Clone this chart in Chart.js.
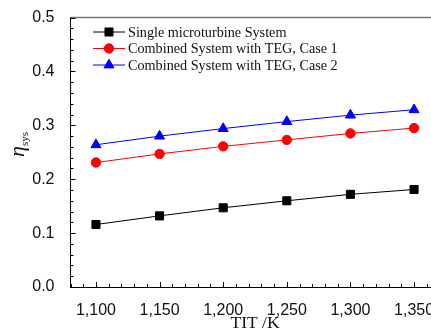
<!DOCTYPE html>
<html>
<head>
<meta charset="utf-8">
<script src="https://cdn.jsdelivr.net/npm/chart.js@4/dist/chart.umd.min.js"></script>
<style>
  html, body { margin: 0; padding: 0; overflow: hidden; background: #fff; }
</style>
</head>
<body>
<canvas id="effChart" width="450" height="333"></canvas>
<script>
// data
const temps = [1100, 1150, 1200, 1250, 1300, 1350];
const singleSys = [0.116, 0.132, 0.147, 0.160, 0.172, 0.181];
const tegCase1 = [0.231, 0.247, 0.261, 0.273, 0.285, 0.295];
const tegCase2 = [0.264, 0.280, 0.294, 0.307, 0.319, 0.329];
const seriesNames = ['Single microturbine System', 'Combined System with TEG, Case 1', 'Combined System with TEG, Case 2'];
const yTicks = [0.0, 0.1, 0.2, 0.3, 0.4, 0.5];

function toPoints(vals) {
    return vals.map((v, i) => ({ x: temps[i], y: v }));
}

// inward ticks, frame, legend and y title
const decorations = {
    id: 'decorations',
    afterDraw(chart) {
        const ctx = chart.ctx;
        const area = chart.chartArea;
        const xs = chart.scales.x;
        const ys = chart.scales.y;
        ctx.save();

        // top frame line
        ctx.strokeStyle = '#777';
        ctx.lineWidth = 1.5;
        ctx.beginPath();
        ctx.moveTo(area.left, area.top);
        ctx.lineTo(area.right, area.top);
        ctx.lineTo(area.right, area.bottom);
        ctx.stroke();

        ctx.strokeStyle = '#000';
        ctx.lineWidth = 1;
        ctx.beginPath();
        for (let v = 1080; v <= 1370; v += 10) {
            const px = Math.round(xs.getPixelForValue(v)) + 0.5;
            const len = v % 50 === 0 ? 5 : 3;
            ctx.moveTo(px, area.bottom);
            ctx.lineTo(px, area.bottom - len);
        }
        for (let i = 0; i <= 25; i++) {
            const py = Math.round(ys.getPixelForValue(i * 0.02)) + 0.5;
            const len = i % 5 === 0 ? 5 : 3;
            ctx.moveTo(area.left, py);
            ctx.lineTo(area.left + len, py);
        }
        ctx.stroke();

        // legend
        chart.data.datasets.forEach((ds, i) => {
            const y = 32 + i * 16.5;
            ctx.strokeStyle = ds.borderColor;
            ctx.lineWidth = 1;
            ctx.beginPath();
            ctx.moveTo(93, y);
            ctx.lineTo(125, y);
            ctx.stroke();
            ctx.fillStyle = ds.pointBackgroundColor;
            ctx.strokeStyle = ds.borderColor;
            Chart.helpers.drawPoint(ctx, {
                pointStyle: ds.pointStyle,
                radius: ds.pointRadius,
                rotation: 0,
                borderWidth: 1
            }, 109, y);
            ctx.fillStyle = '#111';
            ctx.font = '14.2px "Liberation Serif"';
            ctx.textBaseline = 'middle';
            ctx.textAlign = 'left';
            ctx.fillText(ds.label, 128, y + 1);
        });

        // y axis title: eta_sys
        ctx.translate(24, 147);
        ctx.rotate(-Math.PI / 2);
        ctx.fillStyle = '#111';
        ctx.textBaseline = 'alphabetic';
        ctx.textAlign = 'left';
        ctx.font = 'italic 22px "Liberation Serif"';
        ctx.fillText('\u03B7', -10, 0);
        const w = ctx.measureText('\u03B7').width;
        ctx.font = '11px "Liberation Serif"';
        ctx.fillText('sys', -10 + w, 4);
        ctx.restore();
    }
};

new Chart(document.getElementById('effChart').getContext('2d'), {
    type: 'line',
    data: {
        datasets: [
            {
                label: seriesNames[0],
                data: toPoints(singleSys),
                borderColor: '#000',
                pointBackgroundColor: '#000',
                pointBorderColor: '#000',
                pointStyle: 'rect',
                pointRadius: 5.7,
                borderWidth: 1
            },
            {
                label: seriesNames[1],
                data: toPoints(tegCase1),
                borderColor: '#ff0000',
                pointBackgroundColor: '#ff0000',
                pointBorderColor: '#ff0000',
                pointStyle: 'circle',
                pointRadius: 4.7,
                borderWidth: 1
            },
            {
                label: seriesNames[2],
                data: toPoints(tegCase2),
                borderColor: '#0000ff',
                pointBackgroundColor: '#0000ff',
                pointBorderColor: '#0000ff',
                pointStyle: 'triangle',
                pointRadius: 5.8,
                borderWidth: 1
            }
        ]
    },
    options: {
        responsive: false,
        animation: false,
        layout: { padding: { top: 16, right: 10.5, left: 0, bottom: 0 } },
        plugins: {
            legend: { display: false },
            tooltip: { enabled: false }
        },
        scales: {
            x: {
                type: 'linear',
                min: 1080,
                max: 1370,
                afterBuildTicks: scale => { scale.ticks = temps.map(v => ({ value: v })); },
                afterFit: scale => { scale.height = 46; },
                grid: { display: false },
                border: { display: true, color: '#000', width: 1 },
                ticks: {
                    padding: 6,
                    color: '#111',
                    font: { family: '"Liberation Sans"', size: 16 },
                    callback: v => v.toLocaleString('en-US')
                },
                title: {
                    display: true,
                    text: 'TIT /K',
                    color: '#111',
                    font: { family: '"Liberation Serif"', size: 17.5 },
                    padding: { top: 0, bottom: -1 }
                }
            },
            y: {
                min: 0,
                max: 0.5,
                afterBuildTicks: scale => { scale.ticks = yTicks.map(v => ({ value: v })); },
                afterFit: scale => { scale.width = 70.5; },
                grid: { display: false },
                border: { display: true, color: '#000', width: 1 },
                ticks: {
                    padding: 8,
                    color: '#111',
                    font: { family: '"Liberation Sans"', size: 16 },
                    callback: v => v.toFixed(1)
                }
            }
        }
    },
    plugins: [decorations]
});
</script>
</body>
</html>
